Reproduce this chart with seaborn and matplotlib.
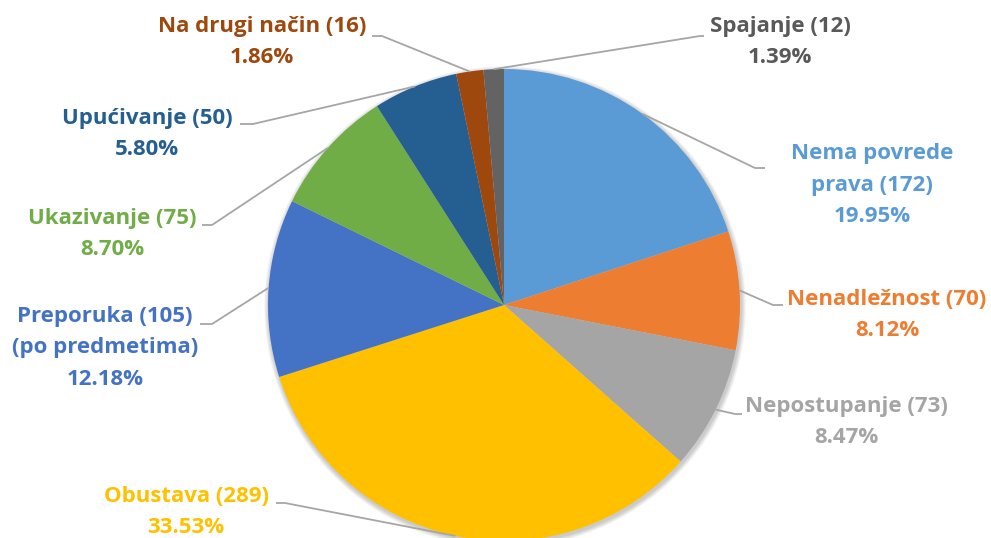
import numpy as np
import matplotlib
matplotlib.use("Agg")
import matplotlib.pyplot as plt
import seaborn as sns

# podaci
kategorije = ["Nema povrede\nprava", "Nenadležnost", "Nepostupanje", "Obustava",
              "Preporuka", "Ukazivanje", "Upućivanje", "Na drugi način", "Spajanje"]
vrijednosti = [172, 70, 73, 289, 105, 75, 50, 16, 12]
boje = ["#5B9BD5", "#ED7D31", "#A5A5A5", "#FFC000", "#4472C4",
        "#70AD47", "#255E91", "#9E480E", "#636363"]
boje_teksta = ["#5B9BD5", "#ED7D31", "#A5A5A5", "#FFC000", "#4472C4",
               "#70AD47", "#255E91", "#9E480E", "#595959"]
dodatak = ["", "", "", "", "\n(po predmetima)", "", "", "", ""]

# raspored (pikseli, y prema dolje)
centar = (504, 305)
radijus = 236
pozicije_teksta = [(872, 185), (887, 315), (846, 422), (186, 512), (105, 348),
                   (112, 234), (147, 134), (262, 42), (780, 42)]
lakat = [(755, 168), (773, 305), (735, 414), (285, 503), (212, 324),
         (212, 225), (253, 124), (382, 36), (700, 36)]
kraj = [(765, 168), (783, 305), (742, 414), (276, 503), (200, 324),
        (202, 225), (240, 124), (372, 36), (704, 36)]

sns.set_theme(style="white")
plt.rcParams['font.family'] = ['Open Sans', 'DejaVu Sans']

fig = plt.figure(figsize=(9.91, 5.38), dpi=100)
ax = fig.add_axes([0, 0, 1, 1])

# blaga sjena
for k in range(6, 0, -1):
    ax.add_patch(plt.Circle((centar[0] + 1, centar[1] + 2), radijus + k * 0.8,
                            color="black", alpha=0.035, lw=0, zorder=0))

wedges, _ = ax.pie(vrijednosti, colors=boje, startangle=-90, counterclock=True,
                   center=centar, radius=radijus,
                   wedgeprops=dict(linewidth=0))

ax.set_xlim(0, 991)
ax.set_ylim(538, 0)
ax.set_aspect('equal', adjustable='box')
ax.axis('off')

ukupno = sum(vrijednosti)
for i, w in enumerate(wedges):
    th = np.deg2rad((w.theta1 + w.theta2) / 2)
    px = centar[0] + radijus * np.cos(th)
    py = centar[1] + radijus * np.sin(th)
    ax.plot([px, lakat[i][0], kraj[i][0]], [py, lakat[i][1], kraj[i][1]],
            color="#A6A6A6", lw=1.3, zorder=5, solid_capstyle="butt")
    postotak = vrijednosti[i] / ukupno * 100
    tekst = f"{kategorije[i]} ({vrijednosti[i]}){dodatak[i]}\n{postotak:.2f}%"
    ax.text(pozicije_teksta[i][0], pozicije_teksta[i][1], tekst,
            ha="center", va="center", multialignment="center",
            fontsize=16, fontweight="bold", color=boje_teksta[i],
            linespacing=1.68, zorder=6)

fig.savefig("out.png", dpi=100)
